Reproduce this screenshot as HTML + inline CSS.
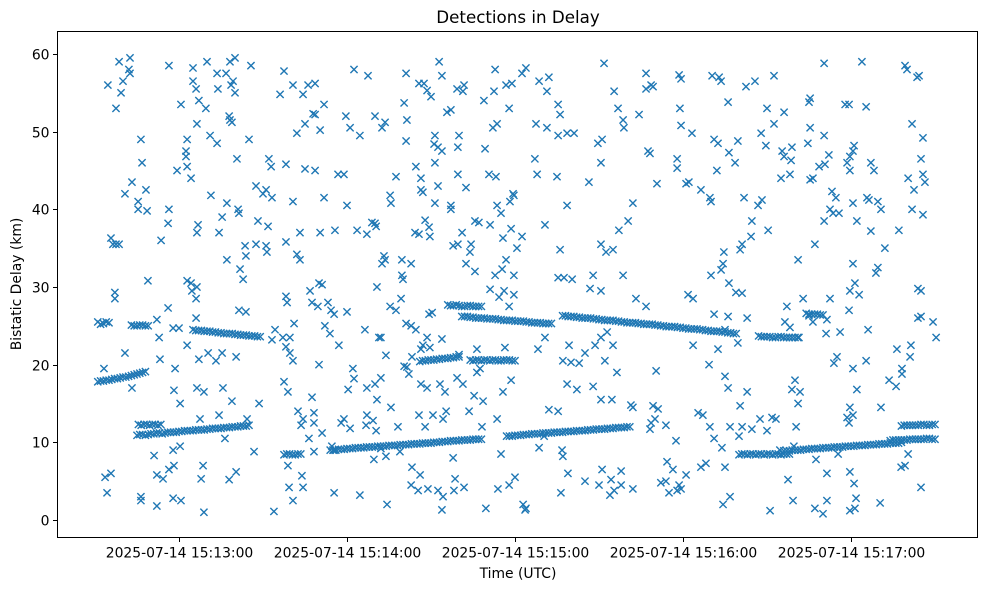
<!DOCTYPE html>
<html><head><meta charset="utf-8"><style>
html,body{margin:0;padding:0;background:#fff;}
svg text{font-family:"DejaVu Sans","Liberation Sans",sans-serif;fill:#000;}
</style></head><body>
<svg id="chart" width="989" height="590" xmlns="http://www.w3.org/2000/svg">
<text x="518" y="23" font-size="16.7" text-anchor="middle">Detections in Delay</text>
<text x="518" y="578" font-size="13.9" text-anchor="middle">Time (UTC)</text>
<text transform="translate(21,284) rotate(-90)" font-size="13.9" text-anchor="middle">Bistatic Delay (km)</text>
<g id="marks"></g>
<g id="axes"></g>
</svg>
<script>
// times in seconds since 15:12:00 UTC, delays in km
const xTickSeconds = [60, 120, 180, 240, 300];
const xTickLabels = ["2025-07-14 15:13:00","2025-07-14 15:14:00","2025-07-14 15:15:00","2025-07-14 15:16:00","2025-07-14 15:17:00"];
const yTickValues = [0, 10, 20, 30, 40, 50, 60];
const trackPoints = [
[31,25.5],[32,25.2],[33,25.3],[34,25.5],[35,25.4],
[31,17.8],[32,17.9],[33,17.9],[34,18.0],[35,18.0],[36,18.1],[37,18.2],[38,18.2],[39,18.3],[40,18.4],[41,18.4],[42,18.5],[43,18.6],[44,18.7],[45,18.8],[46,18.9],[47,19.0],[48,19.1],
[43,25.1],[44,25.0],[45,25.0],[46,25.1],[47,25.1],[48,25.0],[49,25.0],
[45.5,12.3],[46.5,12.2],[47.5,12.3],[48.5,12.3],[49.5,12.2],[50.5,12.3],[51.5,12.3],[52.5,12.2],[53.5,12.3],
[45,10.9],[46,11.0],[47,11.0],[48,10.9],[49,11.0],[50,11.1],[51,11.1],[52,11.2],[53,11.2],[54,11.1],[55,11.2],[56,11.3],[57,11.3],[58,11.3],[59,11.3],[60,11.4],[61,11.4],[62,11.5],[63,11.5],[64,11.5],[65,11.5],[66,11.6],[67,11.6],[68,11.6],[69,11.6],[70,11.7],[71,11.7],[72,11.8],[73,11.8],[74,11.8],[75,11.8],[76,11.9],[77,11.9],[78,11.9],[79,12.0],[80,12.0],[81,12.0],[82,12.1],[83,12.1],[84,12.1],[85,12.2],
[65,24.5],[66,24.4],[67,24.4],[68,24.4],[69,24.3],[70,24.3],[71,24.3],[72,24.2],[73,24.2],[74,24.1],[75,24.1],[76,24.0],[77,24.0],[78,24.0],[79,24.0],[80,23.9],[81,23.9],[82,23.8],[83,23.8],[84,23.8],[85,23.7],[86,23.7],[87,23.7],[88,23.6],[89,23.6],
[97.5,8.4],[98.5,8.5],[99.5,8.5],[100.5,8.4],[101.5,8.4],[102.5,8.5],[103.5,8.5],
[114,9.0],[115,9.0],[116,9.0],[117,9.1],[118,9.1],[119,9.1],[120,9.2],[121,9.2],[122,9.2],[123,9.3],[124,9.3],[125,9.3],[126,9.3],[127,9.4],[128,9.4],[129,9.4],[130,9.4],[131,9.5],[132,9.5],[133,9.5],[134,9.5],[135,9.6],[136,9.6],[137,9.6],[138,9.6],[139,9.7],[140,9.7],[141,9.7],[142,9.7],[143,9.8],[144,9.8],[145,9.8],[146,9.8],[147,9.9],[148,9.9],[149,9.9],[150,9.9],[151,10.0],[152,10.0],[153,10.0],[154,10.1],[155,10.1],[156,10.1],[157,10.2],[158,10.2],[159,10.2],[160,10.2],[161,10.3],[162,10.3],[163,10.3],[164,10.3],[165,10.4],[166,10.4],[167,10.4],[168,10.4],
[177,10.8],[178,10.8],[179,10.8],[180,10.9],[181,10.9],[182,10.9],[183,11.0],[184,11.0],[185,11.0],[186,11.1],[187,11.1],[188,11.1],[189,11.1],[190,11.2],[191,11.2],[192,11.2],[193,11.2],[194,11.3],[195,11.3],[196,11.3],[197,11.3],[198,11.4],[199,11.4],[200,11.4],[201,11.4],[202,11.5],[203,11.5],[204,11.5],[205,11.5],[206,11.6],[207,11.6],[208,11.6],[209,11.7],[210,11.7],[211,11.7],[212,11.7],[213,11.8],[214,11.8],[215,11.8],[216,11.9],[217,11.9],[218,11.9],[219,11.9],[220,12.0],[221,12.0],
[146,20.4],[147,20.5],[148,20.5],[149,20.6],[150,20.6],[151,20.6],[152,20.7],[153,20.7],[154,20.8],[155,20.8],[156,20.8],[157,20.9],[158,20.9],[159,21.0],[160,21.0],
[164,20.6],[165,20.5],[166,20.6],[167,20.6],[168,20.5],[169,20.6],[170,20.6],[171,20.5],[172,20.6],[173,20.6],[174,20.5],[175,20.5],[176,20.6],[177,20.6],[178,20.6],[179,20.5],[180,20.5],
[156,27.7],[157,27.6],[158,27.6],[159,27.7],[160,27.6],[161,27.5],[162,27.5],[163,27.6],[164,27.6],[165,27.5],[166,27.5],[167,27.5],[168,27.5],
[161,26.2],[162,26.2],[163,26.2],[164,26.1],[165,26.1],[166,26.0],[167,26.0],[168,26.0],[169,26.0],[170,25.9],[171,25.9],[172,25.9],[173,25.9],[174,25.8],[175,25.8],[176,25.7],[177,25.7],[178,25.7],[179,25.7],[180,25.6],[181,25.6],[182,25.6],[183,25.6],[184,25.5],[185,25.5],[186,25.4],[187,25.4],[188,25.4],[189,25.4],[190,25.3],[191,25.3],[192,25.3],[193,25.3],
[197,26.3],[198,26.3],[199,26.2],[200,26.2],[201,26.2],[202,26.1],[203,26.1],[204,26.0],[205,26.0],[206,26.0],[207,26.0],[208,25.9],[209,25.9],[210,25.8],[211,25.8],[212,25.7],[213,25.7],[214,25.7],[215,25.7],[216,25.6],[217,25.6],[218,25.5],[219,25.5],[220,25.4],[221,25.4],[222,25.4],[223,25.4],[224,25.3],[225,25.3],[226,25.2],[227,25.2],[228,25.2],[229,25.2],[230,25.1],[231,25.1],[232,25.0],[233,25.0],[234,24.9],[235,24.9],[236,24.9],[237,24.9],[238,24.8],[239,24.8],[240,24.7],[241,24.7],[242,24.6],[243,24.6],[244,24.6],[245,24.6],[246,24.5],[247,24.5],[248,24.4],[249,24.4],[250,24.3],[251,24.3],[252,24.3],[253,24.3],[254,24.2],[255,24.2],[256,24.1],[257,24.1],[258,24.0],[259,24.0],
[260,8.4],[261,8.5],[262,8.5],[263,8.4],[264,8.5],[265,8.5],[266,8.4],[267,8.5],[268,8.5],[269,8.4],[270,8.5],[271,8.5],[272,8.4],[273,8.5],[274,8.5],[275,8.4],[276,8.5],[277,8.5],[278,8.5],
[267,23.7],[268,23.6],[269,23.6],[270,23.6],[271,23.6],[272,23.5],[273,23.5],[274,23.6],[275,23.6],[276,23.5],[277,23.5],[278,23.5],[279,23.5],[280,23.5],[281,23.5],
[276,8.9],[277,8.9],[278,8.9],[279,9.0],[280,9.0],[281,9.0],[282,9.0],[283,9.1],[284,9.1],[285,9.1],[286,9.2],[287,9.2],[288,9.2],[289,9.2],[290,9.3],[291,9.3],[292,9.3],[293,9.3],[294,9.4],[295,9.4],[296,9.4],[297,9.4],[298,9.5],[299,9.5],[300,9.5],[301,9.5],[302,9.6],[303,9.6],[304,9.6],[305,9.6],[306,9.7],[307,9.7],[308,9.7],[309,9.7],[310,9.8],[311,9.8],[312,9.8],[313,9.8],[314,9.9],[315,9.9],[316,9.9],[317,9.9],[318,10.0],
[314,10.2],[315,10.3],[316,10.3],[317,10.3],[318,10.3],[319,10.3],[320,10.3],[321,10.4],[322,10.4],[323,10.4],[324,10.4],[325,10.4],[326,10.4],[327,10.5],[328,10.5],[329,10.4],[330,10.4],
[318,12.1],[319,12.2],[320,12.2],[321,12.2],[322,12.2],[323,12.2],[324,12.2],[325,12.3],[326,12.3],[327,12.2],[328,12.2],[329,12.3],[330,12.3],
[284,26.6],[285,26.5],[286,26.5],[287,26.5],[288,26.5],[289,26.4],[290,26.4]
];
const noisePoints = [
[33.2,19.5],[33.6,5.5],[34.3,3.5],[35.7,6],[34.6,56],[35.7,36.3],[36.4,35.5],[37.5,35.5],[38.6,35.5],[37.1,29.3],[37.1,28.5],[37.5,53],[38.6,59],[39.3,55],[40,56.5],[42.1,58],[42.5,59.5],[42.5,57.5],[40.7,42],[40.7,21.5],[43.2,43.5],[43.2,17],[45.4,41],[45.4,40],[46.4,49],[46.8,46],[48.6,39.8],[48.2,42.5],[48.9,30.8],[46.4,3],[46.4,2.5],
[52.1,5.8],[54.3,5.3],[51.1,8.3],[57.9,9],[56.4,6.5],[58.2,7],[60.4,9.5],[52.1,1.8],[57.9,2.8],[60.7,2.5],[52.1,25.8],[52.9,23.5],[53.2,20.7],[53.6,36],[56.1,38.2],[56.4,40],[56.1,27.3],[58.2,16.7],[58.6,19.5],[57.9,24.7],[60,24.7],[60.4,15],[56.4,58.5],[59.3,45],[60.7,53.5],[62.5,47.5],[62.9,49],[65,58.2],[65,56.5],[66.1,55.5],[67.1,54],[66.4,51],[64.3,44],[62.9,45.5],[62.5,46.8],[62.9,30.8],[64.3,30.5],[64.6,29.5],[66.4,30],[66.1,28.5],[66.1,26],[62.9,22.5],[67.1,20.7],[66.4,17],[68.9,16.5],[67.5,13],[67.9,5.3],[68.6,7],[68.9,1],
[70,59],[73.6,57.5],[73.9,55.5],[69.6,53],[71.1,49.5],[73.6,48.5],[71.4,41.8],[66.8,38],[66.4,37],[75.4,39],[77.1,40.8],[74.3,37],[70.4,21.5],[73.2,20.5],[75.4,21.5],[75.7,17],[74.3,13.5],[76.8,57.5],[79.3,56.5],[78.2,59],[80,59.5],[78.6,56],[80,55],[77.9,52],[78.2,51.5],[78.9,51.2],[80.7,46.5],[81.1,40],[81.4,39.5],[77.1,33.5],[81.8,32.3],[83.6,35.3],[83.9,34],[82.9,31],[81.4,27],[83.9,26.8],[80.4,21],[78.9,15.3],[76.4,10.5],[77.9,5.2],[80.4,6.2],[84.3,13],
[85,49],[85.7,58.5],[87.5,43],[90,42],[91.1,42.5],[93.2,41.5],[88.2,38.5],[87.5,35.5],[91.1,35.3],[92.1,46.5],[92.9,45.5],[91.8,37.8],[91.4,34.5],[93.2,23.2],[94.3,24.5],[97.1,23.5],[98.2,22.3],[99.6,23.5],[88.6,15],[86.8,8.8],
[96.1,54.8],[97.5,57.8],[100.7,56],[106.1,56],[104.3,54.8],[102.1,49.8],[105,51],[98.2,45.8],[105,45.2],[100.7,41],[103.2,37],[98.2,35.8],[102.1,34.2],[103.2,33.5],[98.2,28.8],[98.6,28],[101.1,25.3],[99.6,21.5],[100.7,20.5],[97.5,17.8],[98.9,16.5],[102.5,14],[104.3,13],[103.6,12.2],[98.9,7],[103.9,5.7],[99.3,4.2],[104.3,4.2],[100.7,2.5],[93.9,1.1],
[107.9,52.3],[108.6,52.2],[108.6,56.2],[111.8,53.5],[110.4,50.2],[108.6,45],[110.4,37],[115.7,37.3],[111.8,41.5],[116.8,44.5],[118.9,44.5],[106.8,29.5],[107.5,28],[109.6,27.5],[110,30.5],[111.1,30.3],[113.2,28],[114.3,27],[112.1,25],[113.9,24],[115.4,26.5],[110,20],[107.5,15.8],[108.2,13.8],[108.2,12.5],[106.4,10.5],[111.1,11.2],[108.2,8.8],[114.6,9.5],[115.4,9],[115.4,3.5],[117.1,22.5],[120,26.8],[118.9,13],[117.9,12.5],[121.1,11.8],[120.4,16.8],[122.5,18.2],[122.1,19.5],[120,40.5],[121.1,50.5],[119.6,52],[122.5,58],[124.6,49.5],[127.5,57.2],
[123.6,37.3],[133.2,34],[133.6,33.5],[132.5,33],[130.7,30],[139.6,31.5],[135.4,27.5],[137.5,27],[126.4,24.5],[131.4,23.5],[132.1,23.5],[133.9,21.2],[130,17.5],[127.1,17],[130.7,15.5],[135.7,14.5],[132.1,18.3],[127.1,13.5],[129.3,12.8],[126.8,12.2],[130.4,11.5],[129.6,7.8],[124.6,3.2],[132.1,9.2],[133.9,8.2],[134.3,2],[127.1,36.8],[128.9,38.3],[130.4,37.8],[130,38.2],[135.7,40.8],[135.4,41.8],[137.5,44.2],[133.6,51.2],[132.5,50.5],[130,52],
[141.1,57.5],[140.4,53.7],[141.1,48.8],[141.4,51.5],[146.4,42.5],[147.1,42.2],[144.6,45.5],[146.4,44],[144.3,37],[145.7,36.8],[149.3,37.7],[147.9,38.6],[149.6,36.5],[151.4,40.8],[152.5,43],[151.4,46],[151.1,48.4],[152.5,48],[151.4,49.5],[153.9,47.5],[147.5,56.2],[148.6,55.3],[150,54.5],[145.7,56.2],[153.9,57.2],[139.3,28.5],[150.4,26.7],[149.3,26.5],[141.1,25.3],[142.9,25],[144.6,24.5],[147.1,22.5],[148.6,23.5],[149.6,22.2],[146.4,22],[143.2,21],[140.4,19.8],[141.4,19.7],[142.1,18.8],[146.4,17.5],[148.6,17],[153.2,17.5],[145.7,13.5],[147.9,12],[138.2,12],[138.9,8.8],[143.2,6.8],[146.1,5.8],[142.9,4.5],[145.4,3.8],[148.9,4],[152.5,3.8],[154.3,3],[150.7,13.5],[154.3,13],[139.6,33.5],[140,31],[142.9,33],
[152.9,59],[155.7,52.5],[159.3,55.5],[161.4,55.2],[161.8,56],[157.1,52.8],[160,49.5],[159.6,48],[159.6,44.5],[157.1,40.5],[157.1,40],[157.9,35.3],[159.6,35.5],[161.1,37],[162.5,42.8],[170.7,44.5],[173.2,44.2],[169.3,47.8],[172.1,50.5],[173.6,51],[177.9,53],[172.5,55.2],[176.8,56],[178.9,56.2],[172.9,58],[182.5,57.5],[183.9,58.2],[168.9,54],[165.7,38.5],[167.1,38.3],[164.3,35.5],[163.9,34.5],[162.5,33],[165.7,32],[172.9,31.5],[171.1,29.7],[174.3,28.7],[176.1,29.5],[176.8,33.5],[175.4,32.3],[175.7,36.3],[171.1,38],[173.6,40.5],[175,39.5],[178.2,41],[179.3,42],[179.6,41.8],[178.6,37.5],[180.7,35],[182.5,36.5],[179.6,31.5],[179.6,29],[177.9,27.5],
[153.9,23.3],[160,21.3],[159.3,18.3],[161.4,17.5],[165.4,16],[168.6,15.3],[163.6,14],[168.2,12],[155,16.5],[155.4,14],[157.9,8],[158.6,5.3],[158.2,3.8],[153.9,1.3],[169.6,1.5],[161.8,4.2],[166.4,22],[166.4,19],[167.5,19.5],[176.4,22.2],[175.7,16.5],[178.6,18],[177.9,4.5],[180,5.5],[182.9,2],[183.6,1.3],[183.9,1.5],[173.9,4],[173.6,13],[175,8.5],
[195.4,53.5],[196.1,52.2],[198.6,49.8],[201.1,49.8],[192.1,57],[191.4,55.2],[188.6,56.5],[187.5,51],[191.4,50.5],[187.1,46.5],[187.9,44.5],[195.4,49.5],[195,44.2],[198.6,40.5],[190.7,38],[196.1,34.8],[195.4,31.2],[197.5,31.2],[200.4,31],[206.4,43.5],[210.7,46],[209.6,48.5],[211.1,49],[211.8,58.8],[215.4,55.2],[216.8,53],[218.6,51.5],[224.3,52.2],[226.8,55.5],[228.6,56],[226.8,57.5],[218.9,50.5],[227.5,47.5],[230.7,43.3],[220.4,38.5],[222.1,40.8],[217.1,37.3],[210.7,35.5],[212.5,34.5],[215,34.8],[207.9,31.5],[206.8,29.8],[210.7,29.5],[218.6,31.5],[223.2,28.5],[226.8,27.5],
[190.7,23.5],[188.2,22],[197.1,20.5],[200,20.3],[199.3,22.5],[208.6,22.5],[210.7,23.5],[205,21.5],[202.9,20.2],[198.6,17.5],[202.1,16.8],[207.9,17.2],[210.7,15.5],[214.6,15.5],[192.1,14.2],[195.4,14],[190.4,10.8],[188.6,9.3],[196.8,9],[197.1,8.2],[198.9,6],[205,5],[210,4.5],[196.4,3.5],[213.9,3.2],[215.4,3.8],[211.1,6.5],[214.3,5.2],[217.9,6.3],[217.9,4.5],[222.1,4],[212.1,20.5],[215,22.5],[216.4,19],[222.1,14.5],[221.4,14.8],[212.9,24.2],
[238.6,57.3],[239.3,56.8],[229.3,55.8],[238.9,53],[243.2,49.8],[239.3,50.8],[228.2,47.2],[237.9,46.5],[237.9,45.3],[241.1,43.3],[242.1,43.5],[246.4,42.5],[249.6,41.5],[250,41],[252.1,45],[252.5,48.5],[251.1,49],[250.4,57.2],[252.9,57],[253.6,56.5],[256.1,53.8],[256.4,47.3],[258.6,46],[259.6,48.8],[261.8,41.5],[264.6,38.5],[266.8,40.5],[268.2,41.2],[264.3,36.5],[261.1,35.5],[260.4,34.8],[270.4,37.3],[254.3,33],[254.6,34.5],[250,31.5],[253.6,32.2],[256.4,30.5],[258.9,29.3],[261.1,29.2],[243.6,28.5],[241.8,29],[251.1,26.5],[256.1,26.2],[262.9,26],[243.6,22.5],[252.5,22],[255,24.5],[259.6,22.8],[230.4,19.2],[249.3,20],[255,18.5],[256.1,17],[262.9,16.5],
[229.3,14.7],[231.1,14.3],[230,13],[228.6,12.5],[228.2,11.7],[233.9,12.2],[237.5,10.2],[245.4,13.8],[247.1,13.5],[249.6,12],[251.1,10.5],[256.8,12],[260,10.8],[253.9,9.3],[248.2,7.3],[246.4,6.8],[255,6.8],[241.1,5.8],[233.9,5],[232.1,4.8],[238.6,4.5],[239.3,4],[235,3.5],[237.9,3.8],[256.8,3],[254.3,2],[234.3,7.5],[236.4,6.5],[261.1,12],[260.4,14.7],[267.5,13],[264.6,11.7],
[272.5,57.2],[265.7,56.5],[262.5,55.8],[276.1,52.5],[270,53],[272.5,51],[267.9,49.8],[269.6,48.2],[275.4,47.5],[276.1,46.8],[278.6,46.3],[278.2,44.5],[275,44],[285.4,43.8],[286.4,44],[278.9,48],[284.6,48.5],[285,53.8],[285.4,54.3],[285.4,50.5],[290.4,49.5],[292.1,47],[288.6,45.5],[290.7,45.8],[293.2,42.3],[294.6,41.5],[292.5,40],[293.6,39.5],[290.4,38.5],[287.1,35.5],[281.1,33.5],[277.1,27.5],[282.9,28.5],[276.4,25.5],[278.2,24.8],[281.4,23.5],[291.4,25.8],[286.4,25.5],[285,26.3],[291.1,24],[280,18],[278.9,16.8],[281.8,16.5],[281.1,15],[271.8,13.2],[273.2,13],[280.4,12],[270,11.5],[274.6,9],[277.5,5.2],[279.3,2.5],[271.1,1.2],[287.1,1.5],[290,0.8],[291.4,2.5],[291.4,6],[287.5,7.8],[279.6,9.5],
[290.4,58.8],[297.9,53.5],[299.3,53.5],[300.7,47.5],[301.1,48.2],[299.6,46.8],[298.6,46],[299.6,45],[300.7,40.8],[295.7,39.5],[302.1,38.5],[301.4,30.5],[300.7,33],[299.6,29.5],[299.3,27],[292.5,28.5],[296.1,24.2],[293.9,20.2],[295,21],[300.7,19.5],[302.1,16.8],[299.6,14.5],[300.7,13.5],[299.3,12.5],[298.6,13.2],[295.4,8.5],[299.6,6.2],[301.1,4.7],[299.6,1.2],[301.4,1.5],[301.8,2.8],[303.9,59],
[305.4,53.2],[307.1,46],[308.2,45],[305.7,41.5],[306.4,41.2],[310.7,40],[309.6,41],[307.1,37.2],[312.1,35],[309.6,32.5],[308.9,31.8],[302.9,29],[305.4,20.5],[306.1,24.5],[310.7,14.5],[310.4,2.2],[313.6,18],[316.1,17.2],[316.4,22],[318.2,18.8],[318.2,19.5],[323.9,26],[325,26.2],[323.9,29.8],[325,29.5],[329.3,25.5],[330.4,23.5],[321.1,21],[321.4,22.5],[319.3,58.5],[320,58],[323.6,57],[324.3,57.2],[321.8,51],[325.7,49.2],[325,46.5],[325.7,44.5],[326.4,43.5],[320.4,44],[322.5,42.5],[321.8,40],[325.7,39.3],[317.1,37.3],[325,4.2],[319.3,7],[320.4,8.5],[317.9,6.8]
];

const X0 = 179, PXPERSEC = 2.8, Y0 = 520, PXPERKM = 7.767;
const PL = 57.5, PR = 977.5, PT = 31.5, PB = 537.5;
function xs(t){ return X0 + (t - 60) * PXPERSEC; }
function ys(d){ return Y0 - d * PXPERKM; }
const NS = "http://www.w3.org/2000/svg";
const marks = document.getElementById('marks');
const axes = document.getElementById('axes');
function drawMarker(p, name){
  const x = xs(p[0]), y = ys(p[1]), r = 3.6;
  const path = document.createElementNS(NS, 'path');
  path.setAttribute('d', `M${x-r},${y-r}L${x+r},${y+r}M${x-r},${y+r}L${x+r},${y-r}`);
  path.setAttribute('stroke', '#1f77b4');
  path.setAttribute('stroke-width', '1.4');
  path.setAttribute('fill', 'none');
  
  
  marks.appendChild(path);
}
trackPoints.forEach(p => drawMarker(p, 'track-detection'));
noisePoints.forEach(p => drawMarker(p, 'noise-detection'));

const frame = document.createElementNS(NS, 'rect');
frame.setAttribute('x', PL); frame.setAttribute('y', PT);
frame.setAttribute('width', PR - PL); frame.setAttribute('height', PB - PT);
frame.setAttribute('fill', 'none'); frame.setAttribute('stroke', '#000'); frame.setAttribute('stroke-width', '1');


axes.appendChild(frame);

xTickSeconds.forEach((t, i) => {
  const x = Math.round(xs(t)) + 0.5;
  const ln = document.createElementNS(NS, 'line');
  ln.setAttribute('x1', x); ln.setAttribute('x2', x); ln.setAttribute('y1', PB); ln.setAttribute('y2', PB + 4.5);
  ln.setAttribute('stroke', '#000');
  
  
  axes.appendChild(ln);
  const tx = document.createElementNS(NS, 'text');
  tx.setAttribute('x', x); tx.setAttribute('y', PB + 20);
  tx.setAttribute('font-size', '13.9'); tx.setAttribute('text-anchor', 'middle');
  tx.textContent = xTickLabels[i];
  
  
  axes.appendChild(tx);
});
yTickValues.forEach(v => {
  const y = Math.round(ys(v)) + 0.5;
  const ln = document.createElementNS(NS, 'line');
  ln.setAttribute('x1', PL - 4.5); ln.setAttribute('x2', PL); ln.setAttribute('y1', y); ln.setAttribute('y2', y);
  ln.setAttribute('stroke', '#000');
  
  
  axes.appendChild(ln);
  const tx = document.createElementNS(NS, 'text');
  tx.setAttribute('x', PL - 8); tx.setAttribute('y', y + 5);
  tx.setAttribute('font-size', '13.9'); tx.setAttribute('text-anchor', 'end');
  tx.textContent = String(v);
  
  
  axes.appendChild(tx);
});
</script>
</body></html>
